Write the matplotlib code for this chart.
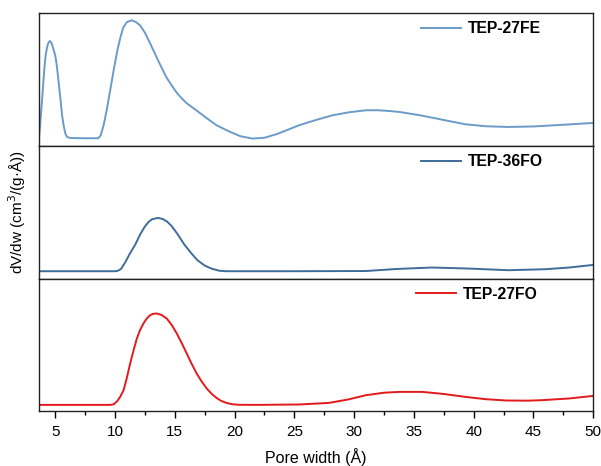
import numpy as np
import matplotlib
matplotlib.use("Agg")
import matplotlib.pyplot as plt
from matplotlib.ticker import MultipleLocator

plt.rcParams['font.family'] = ['Liberation Sans', 'DejaVu Sans']

# pore size distributions, dV/dw in arbitrary units per panel
x_27fe = [3.65, 3.72, 3.8, 3.9, 4.0, 4.1, 4.2, 4.3, 4.4, 4.55, 4.7, 4.8, 4.9, 5.0, 5.1,
          5.2, 5.3, 5.45, 5.57, 5.7, 5.85, 6.0, 6.3, 7.5, 8.6, 8.8, 9.05, 9.3, 9.6, 9.9,
          10.2, 10.45, 10.7, 11.0, 11.4, 11.75, 12.1, 12.5, 12.95, 13.6, 14.3, 14.75,
          15.2, 15.6, 16.0, 16.8, 17.6, 18.5, 19.6, 20.5, 21.5, 22.5, 23.5, 24.5, 25.4,
          26.8, 28.2, 29.6, 31.0, 32.0, 32.9, 33.8, 35.5, 36.7, 37.9, 39.3, 41.0, 42.9,
          45.0, 47.5, 50.0]
y_27fe = [8.3, 18.0, 30.0, 45.3, 62.0, 78.0, 90.3, 97.0, 102.0, 104.6, 102.5, 98.5, 94.5,
          90.3, 83.0, 73.0, 62.0, 45.3, 31.0, 20.3, 12.0, 8.5, 7.5, 7.3, 7.3, 10.0, 20.3,
          35.0, 55.3, 76.0, 95.3, 108.0, 118.3, 123.5, 125.3, 123.5, 120.3, 113.0, 102.0,
          85.3, 68.3, 60.0, 52.3, 47.0, 42.3, 35.3, 28.0, 20.3, 13.8, 9.3, 7.0, 7.8, 11.3,
          16.0, 20.3, 25.5, 30.3, 33.3, 35.3, 35.3, 34.6, 33.6, 30.3, 27.5, 24.6, 21.3,
          19.3, 18.6, 19.1, 20.8, 22.6]

x_36fo = [3.65, 10.0, 10.2, 10.5, 10.85, 11.25, 11.7, 12.1, 12.5, 12.8, 13.1, 13.6, 14.0,
          14.35, 14.7, 15.2, 15.8, 16.4, 16.9, 17.5, 18.05, 18.7, 19.3, 25.0, 31.0, 33.5,
          36.5, 39.5, 42.9, 46.0, 48.0, 50.0]
y_36fo = [7.3, 7.3, 7.6, 9.5, 16.0, 25.0, 34.0, 44.0, 52.0, 56.5, 59.3, 60.6, 59.5,
          57.0, 53.0, 45.0, 34.0, 25.0, 18.3, 13.0, 10.0, 7.8, 7.3, 7.3, 7.5, 9.5,
          11.0, 10.0, 8.3, 9.3, 11.0, 13.6]

x_27fo = [3.65, 9.6, 9.9, 10.2, 10.45, 10.72, 11.0, 11.27, 11.55, 11.83, 12.1, 12.38,
          12.66, 12.94, 13.2, 13.5, 13.9, 14.33, 14.75, 15.17, 15.6, 16.0, 16.4, 16.83,
          17.25, 17.67, 18.1, 18.5, 18.9, 19.4, 19.9, 20.4, 22.0, 25.4, 27.9, 29.5, 31.0,
          32.5, 33.8, 35.7, 37.5, 39.3, 41.0, 42.7, 44.5, 45.7, 48.0, 50.0]
y_27fo = [6.6, 6.6, 7.2, 10.5, 15.0, 21.3, 34.0, 48.0, 61.0, 73.0, 81.5, 88.0,
          93.0, 96.3, 97.7, 98.0, 96.5, 93.0, 86.5, 78.0, 68.0, 58.0, 48.0, 38.0,
          30.0, 23.0, 17.5, 13.5, 10.5, 8.3, 7.1, 6.7, 6.6, 7.0, 8.6, 12.0, 16.3,
          18.8, 19.6, 19.6, 17.5, 14.6, 12.3, 11.0, 10.8, 11.3, 13.0, 15.6]

series = [
    (x_27fe, y_27fe, 'TEP-27FE', '#6b9bc8', 0.69),
    (x_36fo, y_36fo, 'TEP-36FO', '#3e6d99', 0.69),
    (x_27fo, y_27fo, 'TEP-27FO', '#e31a1c', 0.681),
]

fig, axes = plt.subplots(3, 1, sharex=True, figsize=(6.01, 4.66), dpi=100)
fig.subplots_adjust(left=0.065, right=0.987, top=0.973, bottom=0.117, hspace=0)

for ax, (xs, ys, name, col, lx) in zip(axes, series):
    ax.plot(xs, ys, color=col, lw=1.4, label=name)
    ax.set_ylim(0, 133)
    ax.set_yticks([])
    for sp in ax.spines.values():
        sp.set_linewidth(1.0)
        sp.set_color('#222222')
    ax.legend(loc='center left', bbox_to_anchor=(lx, 0.88), frameon=False,
              borderpad=0, borderaxespad=0, handlelength=2.5, handletextpad=0.45,
              prop={'weight': 'bold', 'size': 11.3})
    ax.tick_params(axis='x', which='both', bottom=False)

ax = axes[-1]
ax.set_xlim(3.65, 50)
ax.xaxis.set_major_locator(MultipleLocator(5))
ax.xaxis.set_minor_locator(MultipleLocator(2.5))
ax.tick_params(axis='x', which='major', bottom=True, direction='out', length=5,
               width=1, labelsize=11, pad=5)
ax.tick_params(axis='x', which='minor', bottom=True, direction='out', length=3, width=1)
ax.set_xlabel('Pore width (Å)', fontsize=11.5, labelpad=6)

fig.text(0.028, 0.545, 'dV/dw (cm$^3$/(g·Å))', rotation=90, ha='center', va='center',
         fontsize=11)

fig.savefig('out.png', dpi=100)
